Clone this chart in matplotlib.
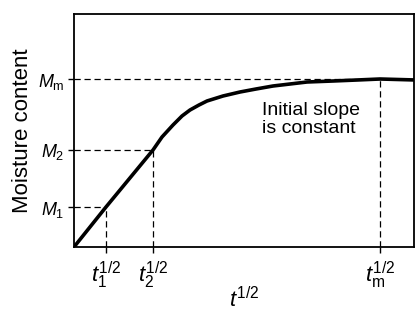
import matplotlib.pyplot as plt

plt.rcParams['font.family'] = ['Liberation Sans', 'DejaVu Sans']
plt.rcParams['mathtext.fontset'] = 'custom'
plt.rcParams['mathtext.rm'] = 'Liberation Sans'
plt.rcParams['mathtext.it'] = 'Liberation Sans:italic'

# curve (arbitrary units)
curve_x = [0, 32, 79, 88, 99, 108, 116, 125, 133, 149, 166, 182, 199, 216, 233, 259, 283, 306, 342]
curve_y = [0, 40, 97, 110, 122, 131, 137, 142, 146, 151, 155, 158, 161, 163, 165, 166, 167, 168, 167]

# marked points
t_vals = [32, 79, 306]
m_vals = [40, 97, 168]
t_labels = [r'$t_1^{1/2}$', r'$t_2^{1/2}$', r'$t_{\rm m}^{1/2}$']
m_labels = [r'$M_1$', r'$M_2$', r'$M_{\rm m}$']

fig = plt.figure(figsize=(4.16, 3.11), dpi=100)
ax = fig.add_axes([74 / 416, 64 / 311, 340 / 416, 233 / 311])

ax.plot(curve_x, curve_y, color='black', lw=2.6, solid_capstyle='round',
        solid_joinstyle='round', zorder=3)

# dashed guides
dash = (0, (5, 3))
for t, m in zip(t_vals[:2], m_vals[:2]):
    ax.plot([0, t], [m, m], color='black', lw=0.9, ls=dash)
    ax.plot([t, t], [0, m], color='black', lw=0.9, ls=dash)
ax.plot([0, 340], [m_vals[2], m_vals[2]], color='black', lw=0.9, ls=dash)
ax.plot([t_vals[2], t_vals[2]], [0, m_vals[2]], color='black', lw=0.9, ls=dash)

ax.set_xlim(0, 340)
ax.set_ylim(0, 233)
ax.set_xticks(t_vals)
ax.set_xticklabels(t_labels, fontsize=16)
ax.set_yticks(m_vals)
ax.set_yticklabels(m_labels, fontsize=13)
ax.tick_params(direction='out', length=4, width=1, pad=3)
ax.tick_params(axis='x', pad=5)
for s in ax.spines.values():
    s.set_linewidth(1.3)

ax.set_ylabel('Moisture content', fontsize=16, labelpad=3)
ax.set_xlabel(r'$t^{1/2}$', fontsize=16, labelpad=-3)

ax.text(188, 145, 'Initial slope\nis constant', fontsize=14, va='top', ha='left',
        linespacing=1.1)

fig.savefig('out.png', dpi=100)
